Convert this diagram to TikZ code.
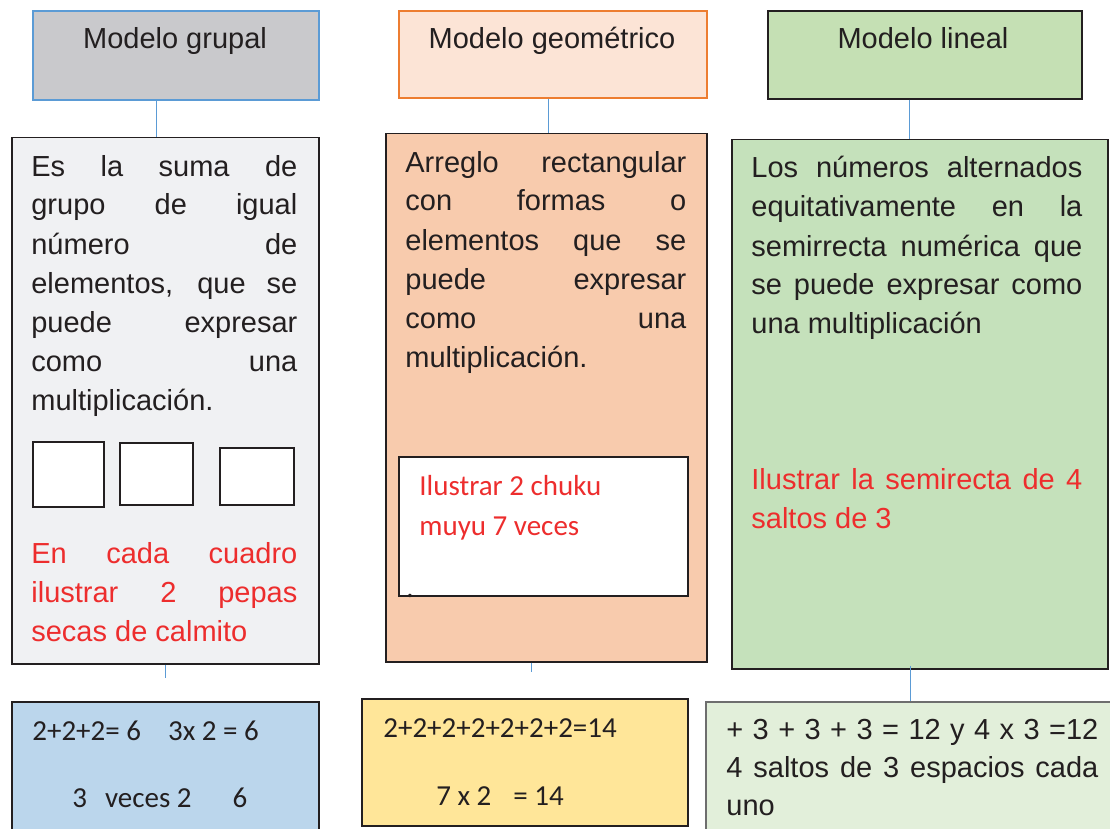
\documentclass[tikz,border=0pt]{standalone}
\usepackage{fontspec}
\setmainfont{Liberation Sans}
\newfontfamily\calibfont{Carlito}

\definecolor{ink}{RGB}{35,31,32}
\definecolor{linkblue}{RGB}{91,155,213}
\definecolor{notered}{RGB}{237,45,45}
\definecolor{grayhead}{RGB}{201,201,204}
\definecolor{graybody}{RGB}{240,241,243}
\definecolor{peachhead}{RGB}{252,228,214}
\definecolor{orangeline}{RGB}{237,125,49}
\definecolor{peachbody}{RGB}{248,203,173}
\definecolor{greenhead}{RGB}{197,224,180}
\definecolor{greenbody}{RGB}{197,225,187}
\definecolor{bluefoot}{RGB}{187,214,236}
\definecolor{yellowfoot}{RGB}{255,230,153}
\definecolor{greenfoot}{RGB}{226,239,218}
\definecolor{footline}{RGB}{110,110,110}

% justified line
\newcommand{\jl}[1]{\makebox[\hsize][s]{\spaceskip=0pt\relax #1}}

\tikzset{
	hdr/.style={draw, line width=1.6pt, inner sep=0, anchor=north west},
	panel/.style={draw=ink, line width=1.5pt, inner sep=0, anchor=north west},
	link/.style={draw=linkblue, line width=1pt},
	headtext/.style={inner sep=0, anchor=base, text=ink, font=\fontsize{29}{35}\selectfont},
	body/.style={inner sep=0, anchor=base west, text=ink, align=flush left, font=\fontsize{29}{39}\selectfont},
	note/.style={body, text=notered}}
\tikzset{every picture/.style={line width=0.75pt}}

\begin{document}
\begin{tikzpicture}[x=1pt,y=1pt,yscale=-1]
	\useasboundingbox (0,0) rectangle (1110,829);
	
	%Header boxes
	\node [hdr, draw=linkblue, fill=grayhead, minimum width=286, minimum height=89] (hdrA) at (32,10) {};
	\node [hdr, draw=orangeline, fill=peachhead, minimum width=308, minimum height=87] (hdrB) at (398,10) {};
	\node [hdr, draw=ink, fill=greenhead, minimum width=314, minimum height=88] (hdrC) at (767,10) {};
	
	%Body boxes
	\node [panel, fill=graybody, minimum width=307, minimum height=526] (boxA) at (11,137) {};
	\node [panel, fill=peachbody, minimum width=321, minimum height=528] (boxB) at (385,133) {};
	\node [panel, fill=greenbody, minimum width=376, minimum height=529] (boxC) at (731,139) {};
	
	%Squares to fill
	\node [panel, fill=white, minimum width=71, minimum height=65] (sqA) at (32,441) {};
	\node [panel, fill=white, minimum width=73, minimum height=62] (sqB) at (119,442) {};
	\node [panel, fill=white, minimum width=74, minimum height=57] (sqC) at (219,447) {};
	%Inner white box
	\node [panel, fill=white, minimum width=289, minimum height=139] (innerB) at (398,456) {};
	
	%Footer boxes
	\node [panel, fill=bluefoot, minimum width=307, minimum height=140] (footA) at (11,701) {};
	\node [panel, fill=yellowfoot, minimum width=326, minimum height=127] (footB) at (361,698) {};
	\node [panel, draw=footline, fill=greenfoot, minimum width=420, minimum height=140] (footC) at (705,701) {};
	
	%Straight Lines
	\draw [link] ([xshift=-19]hdrA.south) -- ([xshift=-19]hdrA.south |- boxA.north);
	\draw [link] ([xshift=-4]hdrB.south) -- ([xshift=-4]hdrB.south |- boxB.north);
	\draw [link] ([xshift=-15]hdrC.south) -- ([xshift=-15]hdrC.south |- boxC.north);
	\coordinate (stubA) at (165,678);
	\coordinate (stubB) at (531,672);
	\draw [link] (boxA.south -| stubA) -- (stubA);
	\draw [link] (boxB.south -| stubB) -- (stubB);
	\draw [link] ([xshift=-9.5,yshift=-4]boxC.south) -- ([xshift=-9.5]boxC.south |- footC.north);
	
	% Text Node
	\node [headtext] (tA) at (175,49) {Modelo grupal};
	% Text Node
	\node [headtext] (tB) at (552,49) {Modelo geométrico};
	% Text Node
	\node [headtext] (tC) at (923,49) {Modelo lineal};
	
	% Text Node
	\node [body, text width=266] (defA) at (31,176) {\jl{Es la suma de}\\ \jl{grupo de igual}\\ \jl{número de}\\ \jl{elementos, que se}\\ \jl{puede expresar}\\ \jl{como una}\\ multiplicación.};
	% Text Node
	\node [note, text width=266] (noteA) at (31,563) {\jl{En cada cuadro}\\ \jl{ilustrar 2 pepas}\\ secas de calmito};
	% Text Node
	\node [body, text width=281] (defB) at (405,172) {\jl{Arreglo rectangular}\\ \jl{con formas o}\\ \jl{elementos que se}\\ \jl{puede expresar}\\ \jl{como una}\\ multiplicación.};
	% Text Node
	\node [note, text width=260, font=\calibfont\fontsize{29}{40}\selectfont] (noteB) at (419,495) {Ilustrar 2 chuku\\ muyu 7 veces};
	% Text Node
	\node [body, font=\calibfont\fontsize{29}{35}\selectfont] (dotB) at (406,597) {.};
	% Text Node
	\node [body, text width=331] (defC) at (751,178) {\jl{Los números alternados}\\ \jl{equitativamente en la}\\ \jl{semirrecta numérica que}\\ \jl{se puede expresar como}\\ una multiplicación};
	% Text Node
	\node [note, text width=331] (noteC) at (751,489) {\jl{Ilustrar la semirecta de 4}\\ saltos de 3};
	
	% Text Node
	\node [body, text width=280, font=\calibfont\fontsize{29}{39}\selectfont] (sumA) at (32,740) {2+2+2= 6\hspace{27pt}3x 2 = 6\\[28pt] \hspace*{40pt}3\hspace{18pt}veces 2\hspace{41pt}6};
	% Text Node
	\node [body, text width=300, font=\calibfont\fontsize{29}{39}\selectfont] (sumB) at (383,737) {2+2+2+2+2+2+2=14\\[29pt] \hspace*{53pt}7 x 2\hspace{22pt}= 14};
	% Text Node
	\node [body, font=\fontsize{29}{38}\selectfont, text width=372] (sumC) at (726,739) {\jl{+ 3 + 3 + 3 = 12 y 4 x 3 =12}\\ \jl{4 saltos de 3 espacios cada}\\ uno};
	
\end{tikzpicture}
\end{document}
